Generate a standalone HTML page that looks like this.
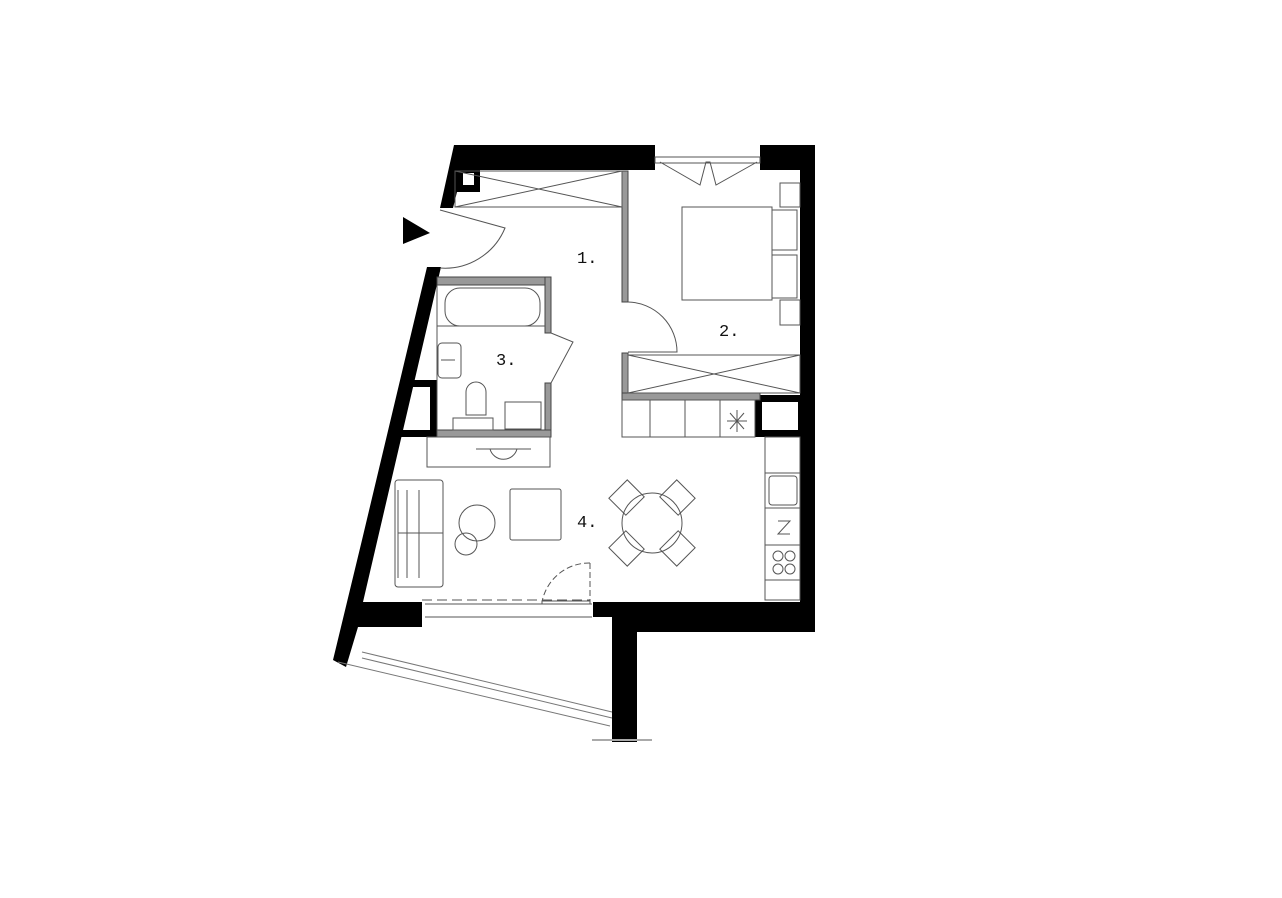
<!DOCTYPE html>
<html><head><meta charset="utf-8"><style>body{margin:0;background:#fff}svg{display:block}</style></head>
<body>
<svg width="1282" height="898" viewBox="0 0 1282 898" xmlns="http://www.w3.org/2000/svg" font-family="Liberation Mono, monospace">
<g fill="#000">
<polygon points="454,145 655,145 655,170 480,170 480,192 457,192 453,208 440,208"/>
<rect x="463" y="173" width="11" height="12" fill="#fff"/>
<rect x="760" y="145" width="55" height="25"/>
<rect x="800" y="145" width="15" height="487"/>
<polygon points="427,267 441,267 363,602 422,602 422,627 358,627 346,667 333,660 362,540"/>
<polygon points="410,380 437,380 437,437 400,437 402,430 430,430 430,387 409,387"/>
<rect x="593" y="602" width="222" height="15"/>
<rect x="612" y="617" width="203" height="15"/>
<rect x="612" y="632" width="25" height="110"/>
<path d="M755,395 H805 V437 H755 Z M762,402 V430 H798 V402 Z" fill-rule="evenodd"/>
<polygon points="403,217 430,233 403,244"/>
</g>
<g fill="#999" stroke="#444" stroke-width="1">
<rect x="437" y="277" width="114" height="8"/>
<rect x="545" y="277" width="6" height="56"/>
<rect x="545" y="383" width="6" height="54"/>
<rect x="437" y="430" width="114" height="7"/>
<rect x="622" y="171" width="6" height="131"/>
<rect x="622" y="353" width="6" height="47"/>
<rect x="622" y="393" width="138" height="7"/>
</g>
<g fill="none" stroke="#555" stroke-width="1">
<rect x="455" y="171" width="167" height="36"/>
<path d="M455,207 L622,171 M455,171 L622,207"/>
<rect x="628" y="355" width="172" height="38"/>
<path d="M628,393 L800,355 M628,355 L800,393"/>
<rect x="655" y="157" width="105" height="6"/>
<path d="M660,162 L700,185 L706,162 L710,162 L716,185 L757,162"/>
<path d="M440,210 L505,228 A65,65 0 0 1 440,268"/>
<path d="M628,302 A50,50 0 0 1 677,352 L628,352"/>
<path d="M551,333 L573,342 L551,383"/>
<path d="M590,563 V602 M590,563 A48,48 0 0 0 542,602" stroke-dasharray="6,3"/>
<path d="M422,600 H590" stroke-dasharray="10,5"/>
<rect x="542" y="601" width="48" height="3" fill="#fff"/>
<path d="M425,604 H592 M425,617 H592"/>
<rect x="445" y="288" width="95" height="38" rx="15"/>
<path d="M437,285 V437 M437,326 H545"/>
<rect x="438" y="343" width="23" height="35" rx="4"/>
<path d="M441,360 H455"/>
<path d="M466,415 V392 A10,10 0 0 1 486,392 V415 Z"/>
<rect x="453" y="418" width="40" height="12"/>
<rect x="505" y="402" width="36" height="27"/>
<rect x="682" y="207" width="90" height="93"/>
<rect x="772" y="210" width="25" height="40"/>
<rect x="772" y="255" width="25" height="43"/>
<rect x="780" y="183" width="20" height="24"/>
<rect x="780" y="300" width="20" height="25"/>
<rect x="622" y="400" width="133" height="37"/>
<path d="M650,400 V437 M685,400 V437 M720,400 V437"/>
<path d="M737,410 V432 M727,421 H747 M730,413 L744,429 M744,413 L730,429"/>
<rect x="765" y="437" width="35" height="163"/>
<path d="M765,473 H800 M765,508 H800 M765,545 H800 M765,580 H800"/>
<rect x="769" y="476" width="28" height="29" rx="3"/>
<circle cx="778" cy="556" r="5"/><circle cx="790" cy="556" r="5"/>
<circle cx="778" cy="569" r="5"/><circle cx="790" cy="569" r="5"/>
<path d="M778,521 H790 L778,534 H790"/>
<rect x="427" y="437" width="123" height="30"/>
<path d="M476,449 H531 M490,449 A14,14 0 0 0 517,449"/>
<rect x="395" y="480" width="48" height="107" rx="3"/>
<path d="M398,490 V578 M407,490 V578 M419,490 V578 M398,533 H443"/>
<circle cx="477" cy="523" r="18"/>
<circle cx="466" cy="544" r="11"/>
<rect x="510" y="489" width="51" height="51" rx="2"/>
<circle cx="652" cy="523" r="30"/>
<g transform="translate(652,523)">
<rect x="-13" y="-12" width="26" height="24" transform="rotate(45) translate(0,-36)"/>
<rect x="-13" y="-12" width="26" height="24" transform="rotate(135) translate(0,-36)"/>
<rect x="-13" y="-12" width="26" height="24" transform="rotate(225) translate(0,-36)"/>
<rect x="-13" y="-12" width="26" height="24" transform="rotate(315) translate(0,-36)"/>
</g>
<path d="M362,652 L612,712 M362,658 L612,718 M338,662 L610,726" stroke="#777"/>
<path d="M592,740 H652" stroke="#aaa" stroke-width="2"/>
</g>
<g font-size="17" fill="#111">
<text x="577" y="263">1.</text>
<text x="719" y="336">2.</text>
<text x="496" y="365">3.</text>
<text x="577" y="527">4.</text>
</g>
</svg>
</body></html>
